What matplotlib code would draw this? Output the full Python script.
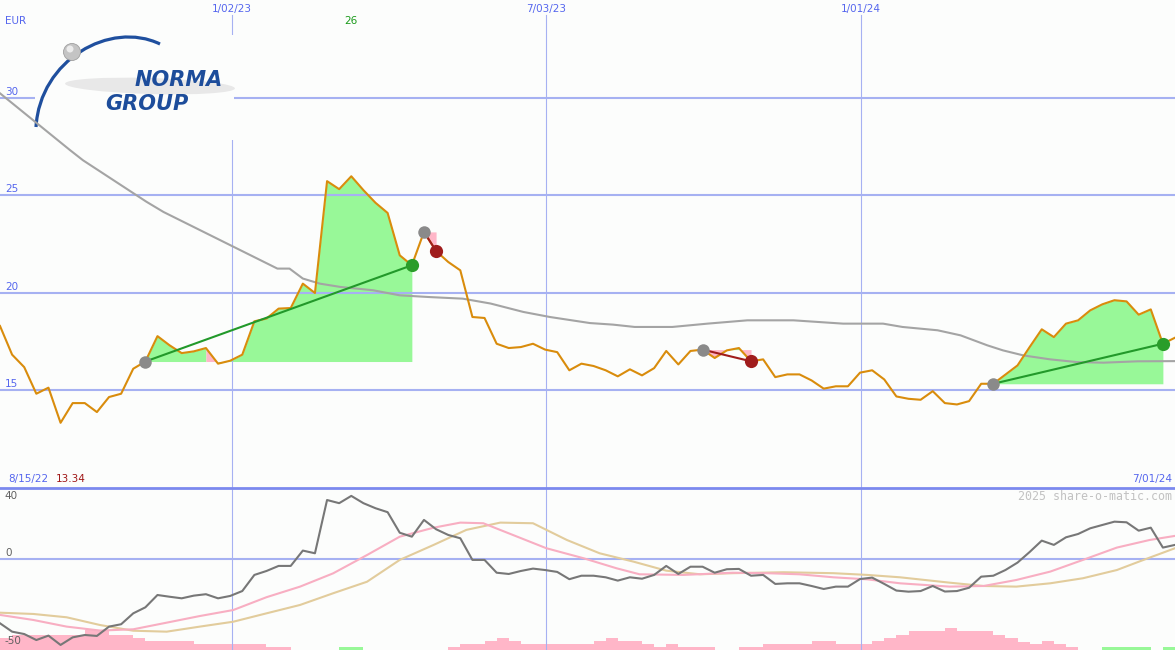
import matplotlib
matplotlib.use("Agg")
import matplotlib.pyplot as plt
from matplotlib.patches import Rectangle, Ellipse, PathPatch
from matplotlib.path import Path

plt.rcParams.update({"font.family": "DejaVu Sans", "font.size": 7.5})

# ---- chart data (weekly closes) --------------------------------------------
price = [18.30, 16.83, 16.19, 14.83, 15.14, 13.34, 14.35, 14.35, 13.89, 14.66,
         14.83, 16.11, 16.48, 17.78, 17.31, 16.91, 17.00, 17.17, 16.37, 16.52,
         16.83, 18.54, 18.68, 19.19, 19.22, 20.47, 19.99, 25.72, 25.31, 25.97,
         25.26, 24.61, 24.09, 21.92, 21.41, 23.12, 22.14, 21.58, 21.15, 18.76,
         18.71, 17.39, 17.17, 17.22, 17.39, 17.09, 16.96, 16.03, 16.37, 16.25,
         16.03, 15.72, 16.08, 15.77, 16.14, 17.02, 16.33, 17.02, 17.09, 16.66,
         17.05, 17.17, 16.49, 16.59, 15.68, 15.82, 15.82, 15.51, 15.09, 15.21,
         15.21, 15.91, 16.03, 15.56, 14.69, 14.57, 14.52, 14.96, 14.35, 14.28,
         14.45, 15.34, 15.34, 15.81, 16.28, 17.22, 18.13, 17.73, 18.42, 18.59,
         19.10, 19.41, 19.62, 19.56, 18.88, 19.15, 17.39, 17.70]
weeks = list(range(len(price)))

# long moving average (gray)
ma_weeks = [0, 5.78, 6.85, 12.1, 13.5, 22.9, 23.9, 25.0, 26.4, 28.1, 30.8, 33.0,
            35.5, 38.2, 40.5, 43.2, 45.4, 48.7, 50.6, 52.4, 55.5, 58.4, 61.7,
            65.5, 69.6, 72.9, 74.5, 77.4, 79.3, 81.5, 82.8, 84.5, 86.7, 88.9,
            91.1, 93.9, 97]
ma_vals = [30.22, 27.31, 26.79, 24.66, 24.14, 21.24, 21.24, 20.73, 20.47, 20.30,
           20.13, 19.87, 19.78, 19.70, 19.45, 19.02, 18.76, 18.45, 18.37, 18.25,
           18.25, 18.42, 18.59, 18.59, 18.42, 18.42, 18.25, 18.08, 17.82, 17.31,
           17.05, 16.79, 16.59, 16.45, 16.42, 16.49, 16.50]

# lower panel: oscillator + two signal curves + histogram
osc = [-40.7, -46.0, -47.5, -51.3, -48.5, -54.4, -49.6, -48.1, -48.7, -42.8,
       -41.3, -34.4, -30.6, -22.8, -23.9, -24.9, -23.2, -22.3, -24.9, -23.4,
       -20.3, -10.1, -7.6, -4.4, -4.4, 5.3, 3.6, 37.3, 35.3, 39.9,
       35.3, 32.1, 29.6, 16.6, 14.1, 24.7, 18.8, 15.2, 13.1, -0.6,
       -0.6, -8.7, -9.5, -7.6, -6.1, -7.0, -8.2, -12.8, -10.6, -10.6,
       -11.6, -13.7, -11.6, -12.5, -10.1, -4.4, -9.5, -4.9, -4.9, -8.7,
       -6.5, -6.3, -10.6, -10.1, -15.8, -15.4, -15.4, -17.1, -19.0, -17.5,
       -17.5, -12.7, -11.8, -15.8, -20.0, -20.7, -20.3, -17.1, -20.6, -20.3,
       -18.2, -11.2, -10.6, -7.0, -2.3, 4.4, 11.6, 8.9, 13.7, 15.8,
       19.4, 21.5, 23.6, 23.2, 17.9, 19.8, 7.2, 8.9]

fast_weeks = [0, 2.75, 5.5, 8.26, 11.0, 13.76, 16.5, 19.26, 22.0, 24.77, 27.5,
              30.3, 33.0, 35.8, 38.0, 39.9, 42.7, 45.1, 48.2, 50.9, 52.8, 56.4,
              60.5, 63.3, 66.0, 68.8, 71.6, 74.3, 78.4, 81.2, 83.9, 86.7, 89.4,
              92.2, 94.9, 97]
fast_vals = [-35.4, -38.6, -42.8, -45.3, -44.5, -40.3, -36.1, -32.3, -24.2, -17.5,
             -9.1, 2.5, 14.1, 19.8, 23.0, 22.6, 14.1, 6.8, 0.4, -5.9, -9.7, -10.1,
             -8.7, -9.0, -9.7, -11.6, -12.9, -15.4, -17.5, -17.1, -13.3, -8.0,
             -0.6, 7.2, 12.0, 14.6]

slow_weeks = [0, 2.75, 5.5, 8.26, 11.0, 13.76, 16.5, 19.26, 22.0, 24.77, 27.5,
              30.3, 33.0, 35.8, 38.5, 41.3, 44.0, 46.8, 49.5, 52.3, 55.0, 57.8,
              60.5, 64.7, 68.8, 71.6, 74.3, 78.4, 81.2, 83.9, 86.7, 89.4, 92.2,
              94.4, 97]
slow_vals = [-34.0, -34.8, -36.9, -41.8, -45.4, -46.0, -42.8, -39.7, -34.4, -29.1,
             -21.7, -14.4, -0.6, 8.9, 18.4, 23.0, 22.6, 12.0, 3.6, -1.7, -7.4,
             -9.7, -9.0, -8.4, -9.0, -10.1, -11.6, -15.0, -17.1, -17.5, -15.4,
             -12.2, -7.0, -0.6, 6.8]

# histogram: positive = pink bar, negative = green bar
bars = [7.4, 9.5, 9.5, 9.5, 9.5, 9.5, 9.5, 12.7, 12.7, 9.5,
        9.5, 7.8, 5.7, 5.7, 5.7, 5.7, 3.6, 3.6, 3.6, 3.6,
        3.6, 3.6, 1.9, 1.9, 0, 0, 0, 0, -1.9, -1.9,
        0, 0, 0, 0, 0, 0, 0, 1.9, 3.6, 3.6,
        5.7, 7.4, 5.7, 3.6, 3.6, 3.6, 3.6, 3.6, 3.6, 5.7,
        7.4, 5.7, 5.7, 3.6, 1.9, 3.6, 1.9, 1.9, 1.9, 0,
        0, 1.9, 1.9, 3.6, 3.6, 3.6, 3.6, 5.7, 5.7, 3.6,
        3.6, 3.6, 5.7, 7.4, 9.5, 12.0, 12.0, 12.0, 13.9, 12.0,
        12.0, 12.0, 9.5, 7.4, 5.3, 3.8, 5.7, 3.8, 1.7, 0,
        0, -1.7, -1.7, -1.7, -1.7, 0, -1.7, -1.7]

# trades (entry week, exit week)
trades = [(12, 34), (35, 36), (58, 62), (82, 96)]

tick_weeks = [19.15, 45.08, 71.08]
tick_labels = ["1/02/23", "7/03/23", "1/01/24"]
start_label, end_label = "8/15/22", "7/01/24"
price_ticks = [15, 20, 25, 30]
currency = "EUR"

# ---- style ------------------------------------------------------------------
W, H = 1175, 650
BG = "#fcfdfc"
GRID = "#a6b1f2"
SEP = "#7b89ee"
BLUE_TXT = "#5566ee"
ORANGE = "#d98c0c"
MA_GRAY = "#a4a4a4"
FILL_G = "#98f898"
FILL_P = "#ffb6c8"
LINE_G = "#22992a"
DOT_G = "#2a9d2a"
DOT_R = "#a01c1c"
DOT_GRAY = "#8a8a8a"
LOGO_BLUE = "#1d4d9b"


def P(x, y):
    """pixel (top-left origin) -> figure fraction"""
    return x / W, 1 - y / H


fig = plt.figure(figsize=(W / 100, H / 100), dpi=100, facecolor=BG)
ax = fig.add_axes([0, 162 / H, 1, 488 / H])
ax2 = fig.add_axes([0, 0, 1, 162 / H])
for a in (ax, ax2):
    a.set_xlim(0, 97)
    a.axis("off")
ax.set_ylim(10, 35)
ax2.set_ylim(-57.6, 44.9)

# ---- main panel -------------------------------------------------------------
for p in price_ticks:
    ax.axhline(p, color=GRID, lw=1.5, zorder=1.5)
    ax.annotate(str(p), xy=(0, p), xycoords=("axes fraction", "data"),
                xytext=(5, 1), textcoords="offset pixels", va="bottom",
                color=BLUE_TXT)
for w, lab in zip(tick_weeks, tick_labels):
    ax.axvline(w, ymax=1 - 15 / 488, color=GRID, lw=0.8, zorder=1.5)
    fig.text(w / 97, 1 - 9 / H, lab, ha="center", va="center", color=BLUE_TXT)

# trade fills, each segment coloured by whether it ends above the entry
for a, b in trades:
    base = price[a]
    k = a
    while k < b:
        up = price[k + 1] >= base
        j = k
        while j < b and (price[j + 1] >= base) == up:
            j += 1
        ax.fill_between(weeks[k:j + 1], price[k:j + 1], base, lw=0,
                        color=FILL_G if up else FILL_P, zorder=1)
        k = j

ax.plot(ma_weeks, ma_vals, color=MA_GRAY, lw=1.5, zorder=3)
ax.plot(weeks, price, color=ORANGE, lw=1.5, zorder=4)

for a, b in trades:
    win = price[b] >= price[a]
    ax.plot([a, b], [price[a], price[b]], color=LINE_G if win else DOT_R,
            lw=1.5, zorder=5)
    ax.plot(a, price[a], "o", ms=9, color=DOT_GRAY, mec="none", zorder=6)
    ax.plot(b, price[b], "o", ms=9.5, color=DOT_G if win else DOT_R,
            mec="none", zorder=6)

# logo block
ax.add_artist(Rectangle(P(35, 140), 199 / W, 105 / H, transform=fig.transFigure,
                        facecolor=BG, edgecolor="none", zorder=1.8))
ax.add_artist(Ellipse(P(150, 86), 170 / W, 16 / H, angle=-3,
                      transform=fig.transFigure, facecolor="#e8e8e8",
                      edgecolor="none", zorder=1.85))
arc = Path([P(36, 127), P(40, 60), P(110, 20), P(160, 44)],
           [Path.MOVETO, Path.CURVE4, Path.CURVE4, Path.CURVE4])
ax.add_artist(PathPatch(arc, transform=fig.transFigure, facecolor="none",
                        edgecolor="#1f4f9e", lw=2.3, zorder=1.9))
ax.add_artist(Ellipse(P(72, 52), 17 / W, 17 / H, transform=fig.transFigure,
                      facecolor="#c4c4c4", edgecolor="#a0a0a0", lw=0.6,
                      zorder=1.95))
ax.add_artist(Ellipse(P(70, 49), 7 / W, 7 / H, transform=fig.transFigure,
                      facecolor="#ececec", edgecolor="none", zorder=1.96))
fig.text(*P(223, 80), "NORMA", ha="right", va="center", fontsize=15,
         fontweight="bold", fontstyle="italic", color=LOGO_BLUE, zorder=2)
fig.text(*P(188, 104), "GROUP", ha="right", va="center", fontsize=15,
         fontweight="bold", fontstyle="italic", color=LOGO_BLUE, zorder=2)

# labels
fig.text(*P(5, 21), currency, va="center", color=BLUE_TXT)
i_max = max(weeks, key=lambda i: price[i])
fig.text(i_max / 97, 1 - 21 / H, f"{price[i_max]:.0f}", ha="center",
         va="center", color="#1a9a1a")
fig.text(*P(8, 479), start_label, va="center", color=BLUE_TXT)
fig.text(*P(56, 479), f"{min(price):.2f}", va="center", color="#a01818")
fig.text(*P(1172, 479), end_label, ha="right", va="center", color=BLUE_TXT)

# ---- lower panel ------------------------------------------------------------
ymin = ax2.get_ylim()[0]
ax2.bar(weeks, [abs(v) for v in bars], bottom=ymin, width=1, align="edge",
        color=[FILL_P if v > 0 else FILL_G for v in bars], lw=0, zorder=1)
ax2.axhline(0, color=GRID, lw=1.5, zorder=1.5)
for w in tick_weeks:
    ax2.axvline(w, color=GRID, lw=0.8, zorder=1.5)
ax2.axhline(ax2.get_ylim()[1], color=SEP, lw=2, clip_on=False, zorder=5)

ax2.plot(slow_weeks, slow_vals, color="#e2cc9c", lw=1.5, zorder=2)
ax2.plot(fast_weeks, fast_vals, color="#f8aec2", lw=1.5, zorder=2.1)
ax2.plot(weeks, osc, color="#777777", lw=1.5, zorder=3)

ax2.text(0.004, 40, "40", transform=ax2.get_yaxis_transform(), va="center",
         color="#606060")
ax2.annotate("0", xy=(0, 0), xycoords=("axes fraction", "data"),
             xytext=(5, 1), textcoords="offset pixels", va="bottom",
             color="#606060")
ax2.text(0.004, -52, "-50", transform=ax2.get_yaxis_transform(), va="center",
         color="#606060", zorder=4)
fig.text(*P(1172, 496), "2025 share-o-matic.com", ha="right", va="center",
         family="DejaVu Sans Mono", fontsize=8.4, color="#c2c2c2")

fig.savefig("out.png", dpi=100, facecolor=BG)
